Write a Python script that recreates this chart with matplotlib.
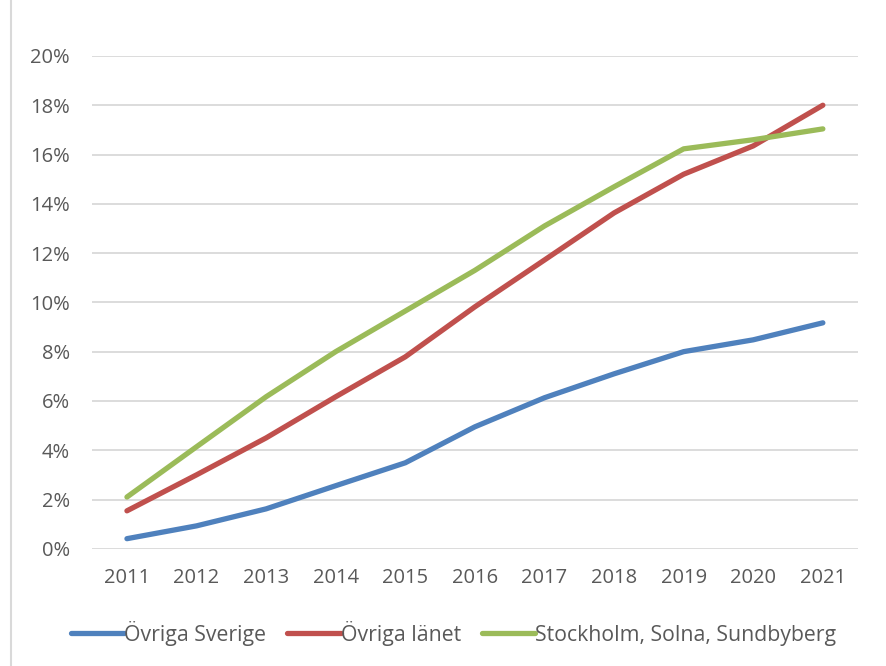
import matplotlib
matplotlib.use("Agg")
import matplotlib.pyplot as plt
from matplotlib.ticker import FuncFormatter, MultipleLocator
from matplotlib.lines import Line2D

years = ["2011", "2012", "2013", "2014", "2015", "2016", "2017", "2018", "2019", "2020", "2021"]
ovriga_sverige = [0.41, 0.93, 1.62, 2.56, 3.49, 4.95, 6.13, 7.10, 8.00, 8.48, 9.17]
ovriga_lanet = [1.54, 3.00, 4.50, 6.17, 7.79, 9.82, 11.72, 13.63, 15.20, 16.35, 18.00]
stockholm = [2.10, 4.14, 6.17, 8.00, 9.65, 11.30, 13.10, 14.69, 16.23, 16.60, 17.04]
series_names = ["Övriga Sverige", "Övriga länet", "Stockholm, Solna, Sundbyberg"]
colors = ["#4F81BD", "#C0504D", "#9BBB59"]

plt.rcParams['font.family'] = ['Open Sans', 'DejaVu Sans']
txt = "#595959"

fig = plt.figure(figsize=(8.86, 6.66), dpi=100)
ax = fig.add_axes([0.104, 0.176, 0.864, 0.740])

x = list(range(len(years)))
for vals, c, n in zip([ovriga_sverige, ovriga_lanet, stockholm], colors, series_names):
    ax.plot(x, vals, color=c, lw=3.8, solid_capstyle='round', solid_joinstyle='round', label=n, zorder=3)

ax.set_xlim(-0.5, len(years) - 0.5)
ax.set_ylim(0, 20)
ax.yaxis.set_major_locator(MultipleLocator(2))
ax.yaxis.set_major_formatter(FuncFormatter(lambda v, p: f"{v:.0f}%"))
ax.set_xticks(x)
ax.set_xticklabels(years)
ax.grid(axis='y', color='#D9D9D9', lw=1.3, zorder=0)
for s in ax.spines.values():
    s.set_visible(False)
ax.tick_params(axis='both', length=0, labelsize=14.5, colors=txt)
ax.tick_params(axis='x', pad=14)
ax.tick_params(axis='y', pad=16)

# left border of chart area
fig.add_artist(Line2D([0.012, 0.012], [0, 1], transform=fig.transFigure, color='#D9D9D9', lw=1.5))

handles, labels = ax.get_legend_handles_labels()
fig.legend(handles, labels, loc='center', bbox_to_anchor=(0.512, 0.049), ncol=3, frameon=False,
           fontsize=15.3, labelcolor=txt, handlelength=2.5, handletextpad=0.0, columnspacing=1.0)

fig.savefig("out.png", dpi=100, facecolor='white')
